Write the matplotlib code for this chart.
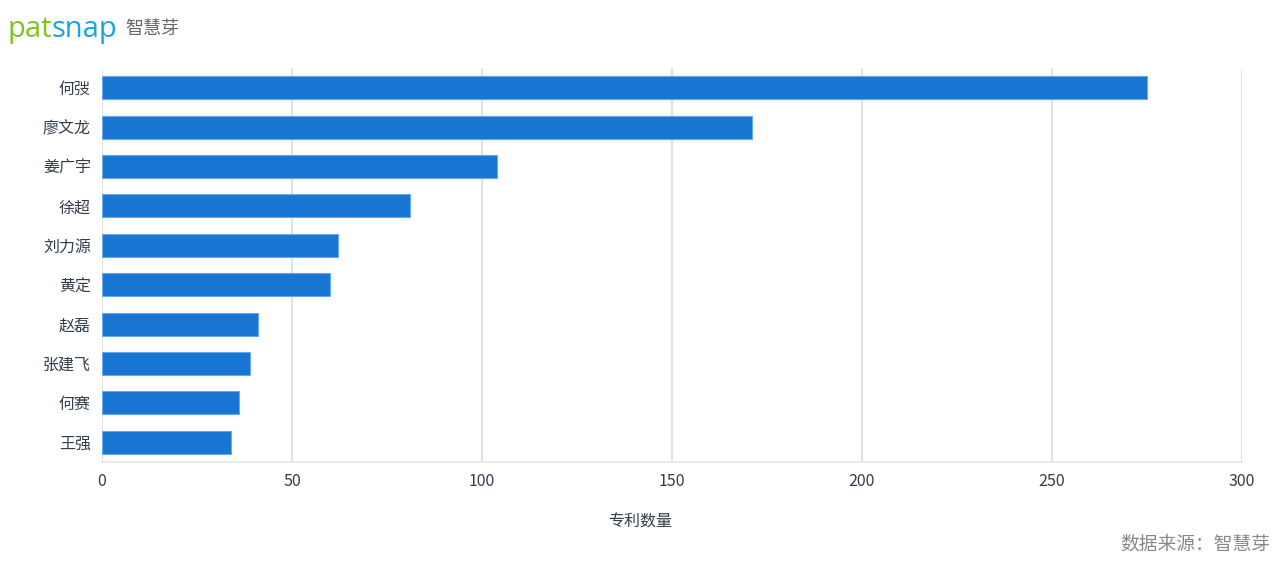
import matplotlib.pyplot as plt

plt.rcParams['font.family'] = ['Noto Sans CJK SC', 'DejaVu Sans']

inventors = ["何弢", "廖文龙", "姜广宇", "徐超", "刘力源", "黄定", "赵磊", "张建飞", "何赛", "王强"]
patents = [275, 171, 104, 81, 62, 60, 41, 39, 36, 34]
x_ticks = [0, 50, 100, 150, 200, 250, 300]

fig = plt.figure(figsize=(12.8, 5.67), dpi=100)
ax = fig.add_axes([0.0797, 0.1852, 0.8906, 0.6948])

y = list(range(len(inventors)))[::-1]
ax.barh(y, patents, height=0.58, color="#1976D2", edgecolor="#64A8EE", linewidth=0.8, zorder=3)

ax.set_xlim(0, 300)
ax.set_ylim(-0.5, len(inventors) - 0.5)
ax.set_xticks(x_ticks)
ax.set_yticks(y)
ax.set_yticklabels(inventors)
ax.tick_params(axis="both", length=0, labelsize=11.5, colors="#333d4d", pad=8)
ax.grid(axis="x", color="#dddddd", linewidth=1.2, zorder=0)
for side in ["top", "right", "left"]:
    ax.spines[side].set_visible(False)
ax.spines["bottom"].set_color("#e6e6e6")
ax.spines["bottom"].set_linewidth(1.2)

fig.text(0.5, 0.079, "专利数量", ha="center", va="center", fontsize=11.5, color="#333d4d")
fig.text(0.992, 0.04, "数据来源：智慧芽", ha="right", va="center", fontsize=13.5, color="#888888")

# logo: each piece placed right after the previous one
renderer = fig.canvas.get_renderer()
x = 8
pieces = [("pat", "#7CC520", 21, "Open Sans", -1),
          ("snap", "#1BA4D8", 21, "Open Sans", 8),
          ("智慧芽", "#666666", 13, "Noto Sans CJK SC", 0)]
for txt, col, size, fam, gap in pieces:
    t = fig.text(x / 1280, 0.948, txt, ha="left", va="center", fontsize=size,
                 color=col, family=fam)
    x = t.get_window_extent(renderer).x1 + gap

fig.savefig("out.png", dpi=100)
